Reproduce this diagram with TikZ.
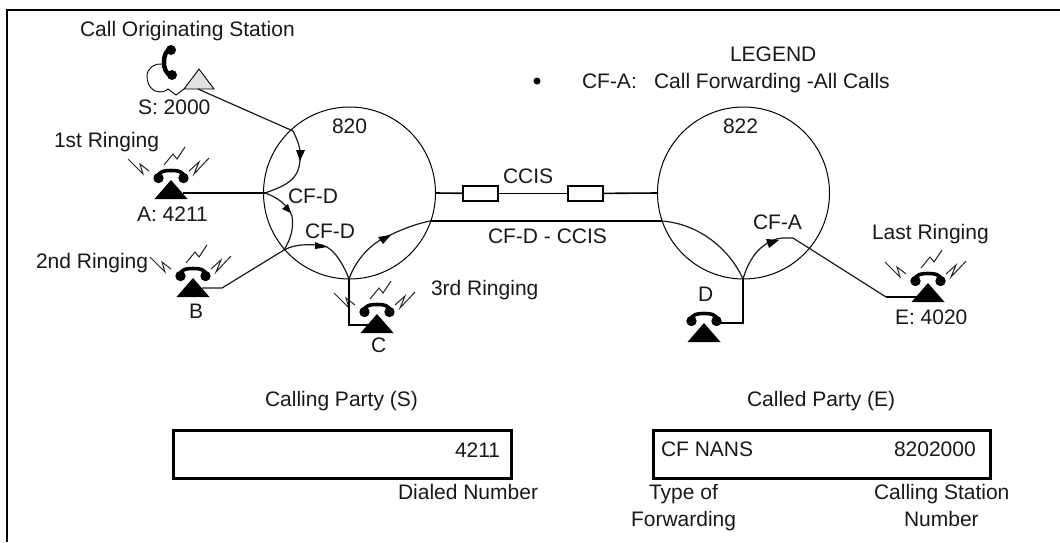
\documentclass[tikz,border=0pt]{standalone}
\usepackage{fontspec}
\setmainfont{Liberation Sans}
\tikzset{
  lbl/.style={anchor=base west,inner sep=0pt,outer sep=0pt,text=black!90,font=\fontsize{21}{25}\selectfont},
  wire/.style={line width=1.2pt,black!90},
  heavy/.style={line width=2.2pt,black},
  ringline/.style={line width=1pt,black!85},
  boxy/.style={line width=3pt,black},
  sw/.style={draw,line width=1.6pt,minimum width=35pt,minimum height=15pt,inner sep=0pt,fill=white},
  phone/.pic={
    \fill[black] (0,0) -- (16.5,19) -- (-16.5,19) -- cycle;
    \fill[black] (-12.5,-2) circle (5.2) (12.5,-2) circle (5.2);
    \draw[line width=3.6pt,black] (-14,-3) .. controls (-11,-9) and (-7,-9.5) .. (0,-9.5) .. controls (7,-9.5) and (11,-9) .. (14,-3);
  },
  ringing/.pic={
    \draw[ringline] (-43,-21) -- (-28,-6) -- (-31,-16) -- (-22,-9);
    \draw[ringline] (-7,-15) -- (2,-26) -- (6,-21) -- (14,-33);
    \draw[ringline] (18,-9) -- (28,-18) -- (23,-6) -- (38,-22);
  },
}
\begin{document}
\begin{tikzpicture}[x=1pt,y=-1pt]
\useasboundingbox (0,0) rectangle (1060,542);
\fill[white] (0,0) rectangle (1060,542);
% frame
\coordinate (fa) at (7,542); \coordinate (fb) at (7,10); \coordinate (fc) at (1060,10);
\draw[line width=2.2pt,black] (fa) -- (fb) -- (fc);
% switches
\node[circle,draw,line width=1pt,minimum size=172pt,inner sep=0pt] (n820) at (349.5,193) {};
\node[circle,draw,line width=1pt,minimum size=172pt,inner sep=0pt] (n822) at (743.5,193) {};
% station points
\coordinate (pA) at (171,180); \coordinate (pB) at (193,278); \coordinate (pC) at (377,314);
\coordinate (pD) at (704,323); \coordinate (pE) at (928,283);
\path (pA) pic {phone} pic {ringing};
\path (pB) pic {phone} pic {ringing};
\path (pC) pic {phone} pic {ringing};
\path (pD) pic {phone};
\path (pE) pic {phone} pic {ringing};
% originating station
\coordinate (sTop) at (199,69); \coordinate (sR) at (214,89); \coordinate (sL) at (184,89); \coordinate (sOut) at (198,89);
\draw[line width=0.9pt,fill=black!12] (sTop) -- (sR) -- (sL) -- cycle;
\fill (171,50) circle (5) (172,75) circle (5);
\draw[line width=4.4pt,black] (171,48) .. controls (166,51) and (164,55) .. (164,62) .. controls (164,69) and (166,73) .. (171,76);
\draw[line width=0.9pt] (162,64) .. controls (155,63) and (147,68) .. (147,76) .. controls (147,86) and (153,92) .. (160,92) .. controls (164,92) and (167,90) .. (168,89) -- (176,95) -- (sL);
% junctions
\coordinate (j1) at (293,131); \coordinate (j2) at (265,193); \coordinate (j3) at (284,250);
\coordinate (j4) at (349,279); \coordinate (j5) at (430,221); \coordinate (j6) at (662,221);
\coordinate (j7) at (743,279); \coordinate (j8) at (793,238); \coordinate (j9) at (886,297);
\coordinate (bend) at (222,288); \coordinate (cc) at (349,325); \coordinate (dd) at (743,323);
\coordinate (aEnd) at (183,193); \coordinate (bEnd) at (202,288); \coordinate (cEnd) at (368,325);
\coordinate (dEnd) at (716,323); \coordinate (eEnd) at (917,297);
% wires
\draw[wire] (sOut) -- (j1);
\draw[wire] (j1) .. controls (299,143) and (301,150) .. (300,160) .. controls (299,180) and (285,186) .. (j2);
\draw[heavy] (aEnd) -- (j2);
\draw[wire] (j2) .. controls (277,197) and (288,205) .. (292,216) .. controls (294,230) and (290,240) .. (j3);
\draw[wire] (bEnd) -- (bend) -- (j3);
\draw[wire] (j3) .. controls (297,243) and (310,245) .. (322,245) .. controls (335,248) and (345,268) .. (j4);
\draw[heavy] (j4) -- (cc) -- (cEnd);
\draw[wire] (j4) .. controls (355,262) and (368,246) .. (384,238) .. controls (400,230) and (415,224) .. (j5);
\draw[heavy] (j5) -- (j6);
\draw[wire] (j6) .. controls (700,224) and (730,250) .. (j7);
\draw[heavy] (j7) -- (dd) -- (dEnd);
\draw[wire] (j7) .. controls (748,262) and (757,247) .. (772,241) .. controls (779,237) and (785,238) .. (j8);
\draw[wire] (j8) -- (j9);
\draw[heavy] (j9) -- (eEnd);
% arrowheads
\fill (296,150) -- (305,150) -- (300,161) -- cycle;
\fill (282,209) -- (288,204) -- (291,213) -- cycle;
\fill (315,242) -- (315,249) -- (327,247) -- cycle;
\fill (378,237) -- (383,244) -- (391,235) -- cycle;
\fill (766,239) -- (769,248) -- (779,240) -- cycle;
% CCIS trunk
\node[sw] (s1) at (480.5,193.5) {};
\node[sw] (s2) at (585.5,193.5) {};
\draw[line width=1.6pt] (n820.east) -- (s1);
\draw[line width=1.6pt] (s1) -- (s2);
\draw[line width=1.6pt] (s2) -- (n822.west);
% record boxes
\node[draw,boxy,minimum width=338pt,minimum height=48pt,inner sep=0pt] (recL) at (342,454) {};
\node[draw,boxy,minimum width=337pt,minimum height=48pt,inner sep=0pt] (recR) at (821.5,454) {};
% labels
\node[lbl] (t1) at (80,36) {Call Originating Station};
\node[lbl] (t2) at (138,114) {S: 2000};
\node[lbl] (t3) at (54,147) {1st Ringing};
\node[lbl] (t4) at (137,221) {A: 4211};
\node[lbl] (t5) at (36,268) {2nd Ringing};
\node[lbl] (t6) at (189,318) {B};
\node[lbl] (t7) at (371,352) {C};
\node[lbl] (t8) at (431,295) {3rd Ringing};
\node[lbl] (t9) at (332,133) {820};
\node[lbl] (t10) at (723,133) {822};
\node[lbl] (t11) at (288,203) {CF-D};
\node[lbl] (t12) at (305,238) {CF-D};
\node[lbl] (t13) at (503,183) {CCIS};
\node[lbl] (t14) at (488,243) {CF-D - CCIS};
\node[lbl] (t15) at (753,229) {CF-A};
\node[lbl] (t16) at (872,239) {Last Ringing};
\node[lbl] (t17) at (895,324) {E: 4020};
\node[lbl] (t18) at (698,301) {D};
\node[lbl] (t19) at (730,61) {LEGEND};
\fill (537,81) circle (3.5);
\node[lbl] (t20) at (582,88) {CF-A:};
\node[lbl] (t21) at (654,88) {Call Forwarding -All Calls};
\node[lbl] (t22) at (265,406) {Calling Party (S)};
\node[lbl] (t23) at (747,406) {Called Party (E)};
\node[lbl] (t24) at (455,457) {4211};
\node[lbl] (t25) at (661,456) {CF NANS};
\node[lbl] (t26) at (894,456) {8202000};
\node[lbl] (t27) at (398,499) {Dialed Number};
\node[lbl] (t28) at (649,499) {Type of};
\node[lbl] (t29) at (631,526) {Forwarding};
\node[lbl] (t30) at (874,499) {Calling Station};
\node[lbl] (t31) at (904,526) {Number};
\end{tikzpicture}
\end{document}
